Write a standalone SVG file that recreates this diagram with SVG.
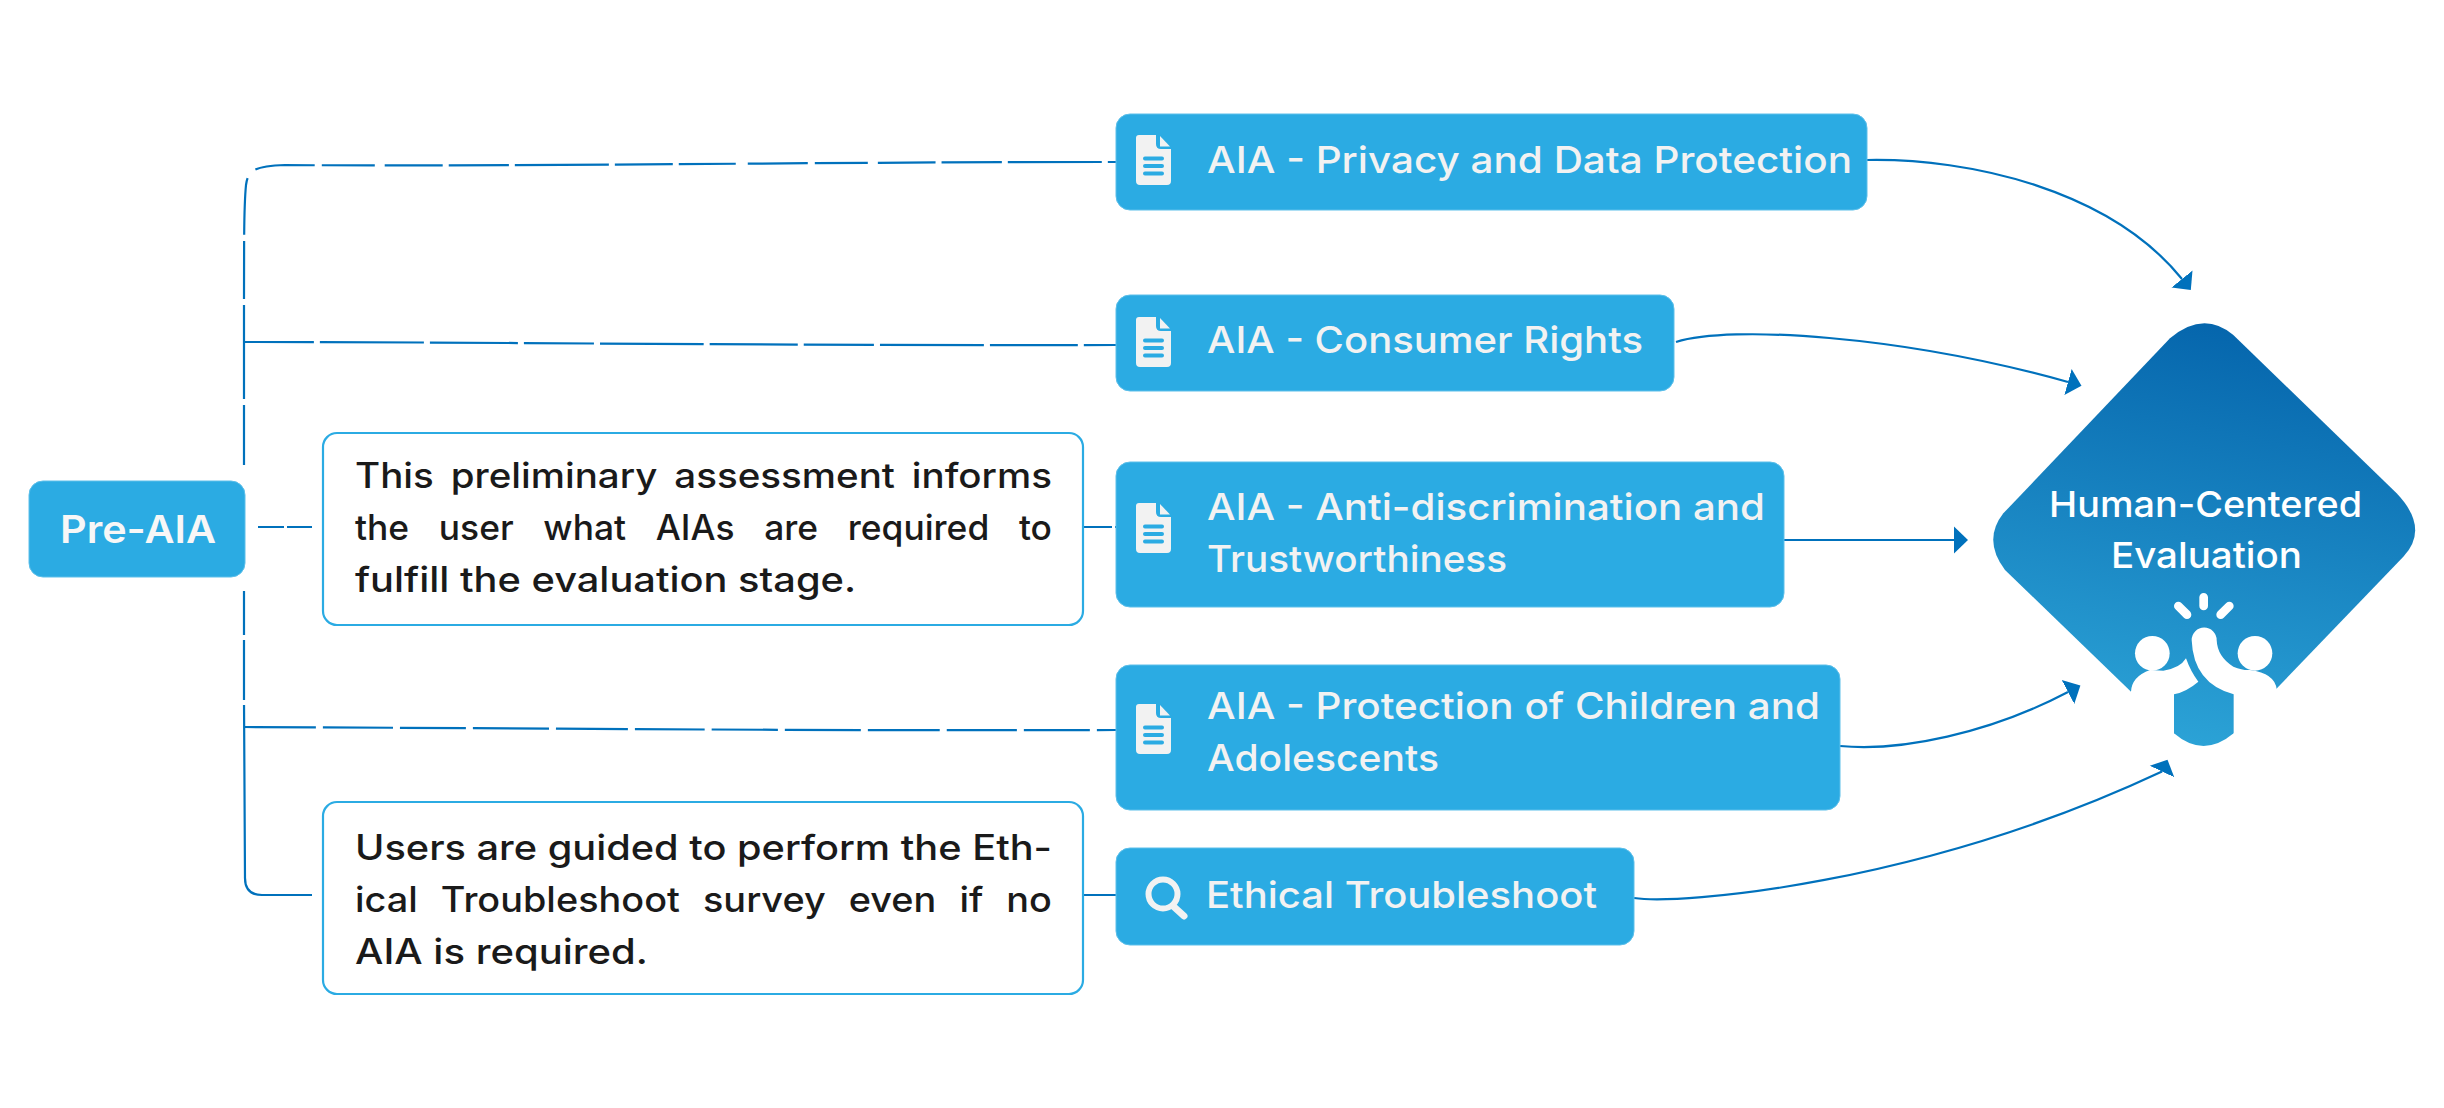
<svg xmlns="http://www.w3.org/2000/svg" xmlns:xlink="http://www.w3.org/1999/xlink" width="2444" height="1108" viewBox="0 0 2444 1108">
<style>
.box{fill:#2babe3;stroke:#5cbfea;stroke-width:1}
.note{fill:#fff;stroke:#2babe3;stroke-width:2.2}
.lbl{font-family:"Inter","Liberation Sans",sans-serif;font-size:37px;font-weight:500;fill:#f2f2f2}
.nt{font-family:"Inter","Liberation Sans",sans-serif;font-size:35px;font-weight:500;fill:#1a1a1a}
.dc{font-family:"Inter","Liberation Sans",sans-serif;font-size:36px;font-weight:500;fill:#fff}
.dash{fill:none;stroke:#0071bc;stroke-width:2.2}
.cur{fill:none;stroke:#0071bc;stroke-width:2.2}
.bar{stroke:#2babe3;stroke-width:4;stroke-linecap:round}
</style>
<defs>
<linearGradient id="dg" gradientUnits="userSpaceOnUse" x1="900" y1="140" x2="640" y2="1370">
<stop offset="0" stop-color="#0565ac"/><stop offset="1" stop-color="#2ba2d6"/>
</linearGradient>
<marker id="ah" markerUnits="userSpaceOnUse" markerWidth="16" markerHeight="30" refX="0" refY="14" orient="auto" viewBox="0 0 16 28"><path d="M0,0.5 L14,14 L0,27.5Z" fill="#0071bc"/></marker>
<marker id="ah2" markerUnits="userSpaceOnUse" markerWidth="16" markerHeight="30" refX="0" refY="14" orient="-65" viewBox="0 0 16 28"><path d="M0,0.5 L13,14 L0,27.5Z" fill="#0071bc"/></marker>
<g id="doc">
<path d="M3,0 H20 V9 Q20,14 25,14 H35 V46 Q35,50 31,50 H4 Q0,50 0,46 V3 Q0,0 3,0Z" fill="#f2f2f2"/>
<path d="M24,1 L34,11.5 H24Z" fill="#f2f2f2"/>
<path class="bar" d="M9,23.5 H26 M9,31 H26 M9,38.5 H26"/>
</g>
</defs>
<rect width="2444" height="1108" fill="#fff"/>
<g id="connectors">
<path class="dash" stroke-dasharray="60 6 94 6 58 6 57 12 60 7 53 10 58 6" d="M244,465 V300 C244,240 244,205 246,185 C248,170 255,166 285,165 C500,167 800,162 1116,162"/>
<path class="dash" stroke-dasharray="70 6 104 6 88 6" d="M244,342 C500,342 800,346 1116,345"/>
<path class="dash" stroke-dasharray="26 3" d="M258,527 H312"/>
<path class="dash" stroke-dasharray="28 3" d="M1084,527 H1116"/>
<path class="dash" stroke-dasharray="44 5 60 5 1000" d="M244,591 V700 L245,878 Q245,895 262,895 H312"/>
<path class="dash" stroke-dasharray="72 7 70 7 66 7 76 7" d="M244,727 C500,728 800,731 1116,730"/>
<path class="cur" d="M1083,895 H1116"/>
<path class="cur" marker-end="url(#ah)" d="M1867,160 C1970,158 2110,190 2182,279"/>
<path class="cur" marker-end="url(#ah)" d="M1676,342 C1730,325 1900,335 2068,382"/>
<path class="cur" marker-end="url(#ah)" d="M1784,540 H1954"/>
<path class="cur" marker-end="url(#ah)" d="M1840,746 C1900,752 1990,733 2068,692"/>
<path class="cur" marker-end="url(#ah2)" d="M1634,898 C1680,905 1920,885 2162,771.5"/>
</g>
<g id="pre-aia">
<rect class="box" x="29" y="481" width="216" height="96" rx="14"/>
<text x="60" y="543" style="font-family:Inter,'Liberation Sans',sans-serif;font-size:38px;font-weight:600;fill:#f7f7f7" textLength="156" lengthAdjust="spacingAndGlyphs">Pre-AIA</text>
</g>
<g id="note-1">
<rect class="note" x="323" y="433" width="760" height="192" rx="14"/>
<text class="nt" x="355" y="488" word-spacing="6" textLength="697" lengthAdjust="spacingAndGlyphs">This preliminary assessment informs</text>
<text class="nt" x="355" y="540" word-spacing="20" textLength="697" lengthAdjust="spacingAndGlyphs">the user what AIAs are required to</text>
<text class="nt" x="355" y="592" textLength="501" lengthAdjust="spacingAndGlyphs">fulfill the evaluation stage.</text>
</g>
<g id="note-2">
<rect class="note" x="323" y="802" width="760" height="192" rx="14"/>
<text class="nt" x="355" y="860" textLength="697" lengthAdjust="spacingAndGlyphs">Users are guided to perform the Eth-</text>
<text class="nt" x="355" y="912" word-spacing="12" textLength="697" lengthAdjust="spacingAndGlyphs">ical Troubleshoot survey even if no</text>
<text class="nt" x="355" y="964" textLength="293" lengthAdjust="spacingAndGlyphs">AIA is required.</text>
</g>
<g id="aia-privacy">
<rect class="box" x="1116" y="114" width="751" height="96" rx="14"/>
<use xlink:href="#doc" href="#doc" x="1136" y="135"/>
<text class="lbl" x="1207" y="173" textLength="645" lengthAdjust="spacingAndGlyphs">AIA - Privacy and Data Protection</text>
</g>
<g id="aia-consumer">
<rect class="box" x="1116" y="295" width="558" height="96" rx="14"/>
<use xlink:href="#doc" href="#doc" x="1136" y="317"/>
<text class="lbl" x="1207" y="353" textLength="436" lengthAdjust="spacingAndGlyphs">AIA - Consumer Rights</text>
</g>
<g id="aia-anti">
<rect class="box" x="1116" y="462" width="668" height="145" rx="14"/>
<use xlink:href="#doc" href="#doc" x="1136" y="503"/>
<text class="lbl" x="1207" y="520" textLength="558" lengthAdjust="spacingAndGlyphs">AIA - Anti-discrimination and</text>
<text class="lbl" x="1207" y="572" textLength="300" lengthAdjust="spacingAndGlyphs">Trustworthiness</text>
</g>
<g id="aia-protection">
<rect class="box" x="1116" y="665" width="724" height="145" rx="14"/>
<use xlink:href="#doc" href="#doc" x="1136" y="704"/>
<text class="lbl" x="1207" y="719" textLength="613" lengthAdjust="spacingAndGlyphs">AIA - Protection of Children and</text>
<text class="lbl" x="1207" y="771" textLength="232" lengthAdjust="spacingAndGlyphs">Adolescents</text>
</g>
<g id="ethical">
<rect class="box" x="1116" y="848" width="518" height="97" rx="14"/>
<circle cx="1163" cy="894" r="14.5" fill="none" stroke="#f2f2f2" stroke-width="6"/>
<path d="M1173,906 L1184,916" stroke="#f2f2f2" stroke-width="7" stroke-linecap="round"/>
<text class="lbl" x="1206" y="908" textLength="391" lengthAdjust="spacingAndGlyphs">Ethical Troubleshoot</text>
</g>
<g id="human-centered">
<g transform="translate(1950,280) scale(0.33333)">
<path d="M660,175 Q760,90 850,165 L1340,640 Q1440,745 1360,830 L851,1360 Q760,1436 672,1360 L165,870 Q97,780 160,700Z" style="fill:url(#dg)"/>
<g fill="#fff">
<circle cx="607" cy="1120" r="52"/>
<circle cx="915" cy="1120" r="52"/>
<path d="M543,1235 Q545,1190 600,1170 L640,1172 Q690,1165 708,1135 Q722,1175 745,1205 Q710,1235 672,1243 V1402 H543Z"/>
<path d="M725,1080 A37,37 0 0 1 800,1080 Q802,1130 850,1160 Q880,1172 900,1170 Q975,1180 980,1228 V1402 H851 V1243 Q730,1210 725,1080Z"/>
</g>
<path d="M761,952 V978 M685,978 L711,1004 M838,978 L812,1004" stroke="#fff" stroke-width="26" stroke-linecap="round" fill="none"/>
</g>
<text class="dc" x="2049" y="517" textLength="313" lengthAdjust="spacingAndGlyphs">Human-Centered</text>
<text class="dc" x="2111" y="568" textLength="191" lengthAdjust="spacingAndGlyphs">Evaluation</text>
</g>
</svg>
